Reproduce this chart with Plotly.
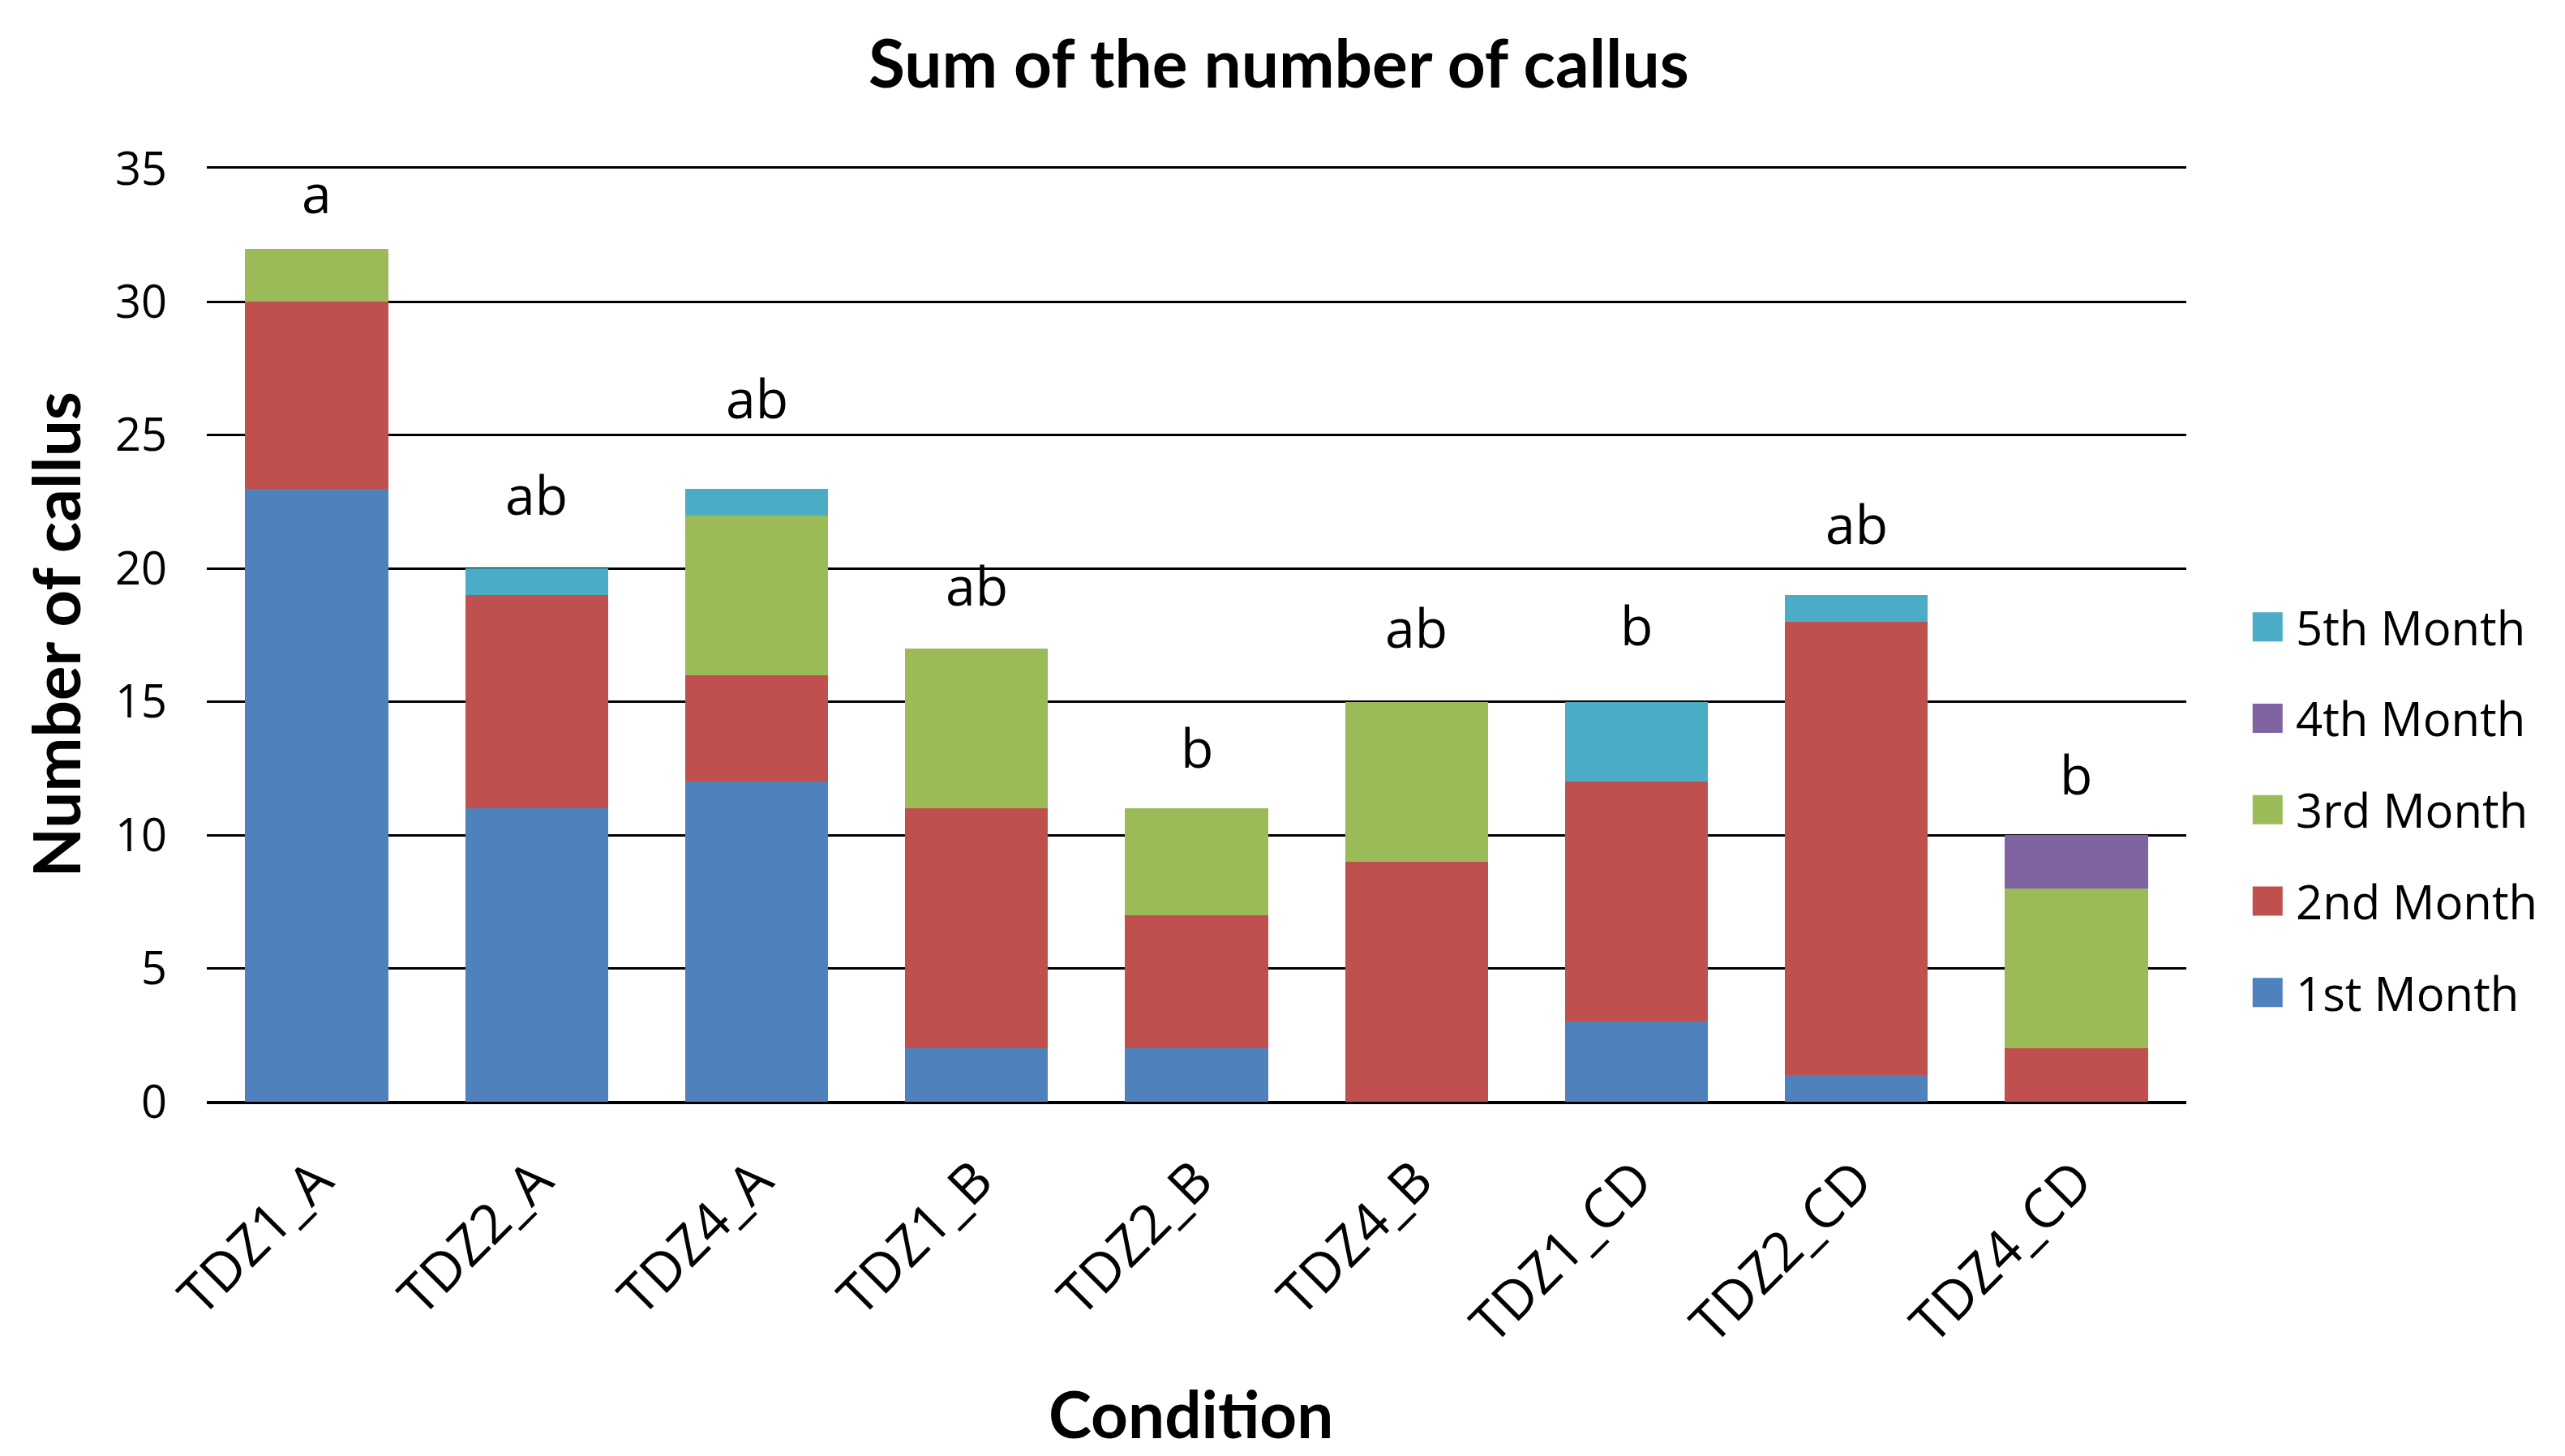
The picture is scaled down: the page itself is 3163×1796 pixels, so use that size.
import plotly.graph_objects as go

categories = ["TDZ1_A", "TDZ2_A", "TDZ4_A", "TDZ1_B", "TDZ2_B", "TDZ4_B", "TDZ1_CD", "TDZ2_CD", "TDZ4_CD"]
month1 = [23, 11, 12, 2, 2, 0, 3, 1, 0]
month2 = [7, 8, 4, 9, 5, 9, 9, 17, 2]
month3 = [2, 0, 6, 6, 4, 6, 0, 0, 6]
month4 = [0, 0, 0, 0, 0, 0, 0, 0, 2]
month5 = [0, 1, 1, 0, 0, 0, 3, 1, 0]
letters = ["a", "ab", "ab", "ab", "b", "ab", "b", "ab", "b"]
# baseline height (in axis units) of each significance letter
letter_baseline = [33.2, 21.9, 25.5, 18.5, 12.4, 16.9, 17.0, 20.8, 11.4]

series_names = ["1st Month", "2nd Month", "3rd Month", "4th Month", "5th Month"]
series_values = [month1, month2, month3, month4, month5]
series_colors = ["#4F81BD", "#C0504D", "#9BBB59", "#8064A2", "#4BACC6"]

FONT = "Open Sans"
BOLD = "Lato"
LETTER_SIZE = 66

fig = go.Figure()
for name, vals, col in zip(series_names, series_values, series_colors):
    fig.add_trace(go.Bar(
        x=categories, y=vals, name=name, marker=dict(color=col, line=dict(width=0)),
        showlegend=False,
    ))

for c, yb, l in zip(categories, letter_baseline, letters):
    fig.add_annotation(x=c, y=yb, text=l, showarrow=False, yanchor="bottom",
                       yshift=-int(LETTER_SIZE * 0.27),
                       font=dict(family=FONT, size=LETTER_SIZE, color="black"))

# legend (drawn manually so the colour squares match the reference size)
leg_x = 1.0335
leg_text_x = 1.0545
leg_top = 0.509
leg_step = 0.098
for i, (name, col) in enumerate(zip(series_names[::-1], series_colors[::-1])):
    yc = leg_top - i * leg_step
    fig.add_shape(type="rect", xref="paper", yref="paper", xsizemode="pixel", ysizemode="pixel",
                  xanchor=leg_x, yanchor=yc, x0=0, x1=37, y0=-18, y1=18,
                  fillcolor=col, line=dict(width=0))
    fig.add_annotation(text=name, xref="paper", yref="paper", x=leg_text_x, y=yc,
                       xanchor="left", yanchor="middle", showarrow=False,
                       font=dict(family=FONT, size=58, color="black"))

fig.add_annotation(text="<b>Number of callus</b>", xref="paper", yref="paper", x=-0.077, y=0.5,
                   textangle=-90, showarrow=False, xanchor="center", yanchor="middle",
                   font=dict(family=BOLD, size=80, color="black"))
fig.add_annotation(text="<b>Condition</b>", xref="paper", yref="paper", x=0.497, y=-0.334,
                   showarrow=False, xanchor="center", yanchor="middle",
                   font=dict(family=BOLD, size=80, color="black"))

fig.update_layout(
    width=3163, height=1796,
    margin=dict(l=247, r=475, t=200, b=445),
    barmode="stack", bargap=0.35,
    plot_bgcolor="white", paper_bgcolor="white",
    showlegend=False,
    title=dict(text="<b>Sum of the number of callus</b>", x=0.496, xanchor="center",
               y=0.9605, yanchor="middle", font=dict(family=BOLD, size=82, color="black")),
    font=dict(family=FONT, color="black"),
)
fig.update_yaxes(range=[0, 35], tickvals=[0, 5, 10, 15, 20, 25, 30, 35], showgrid=True,
                 gridcolor="black", gridwidth=3,
                 zeroline=True, zerolinecolor="black", zerolinewidth=3, showline=False,
                 tickfont=dict(family=FONT, size=56, color="black"), ticklabelstandoff=48)
fig.update_xaxes(tickangle=-45, showline=True, mirror=True, linecolor="black", linewidth=3,
                 tickfont=dict(family=FONT, size=67, color="black"), ticklabelstandoff=28)

fig.write_html("out.html")
